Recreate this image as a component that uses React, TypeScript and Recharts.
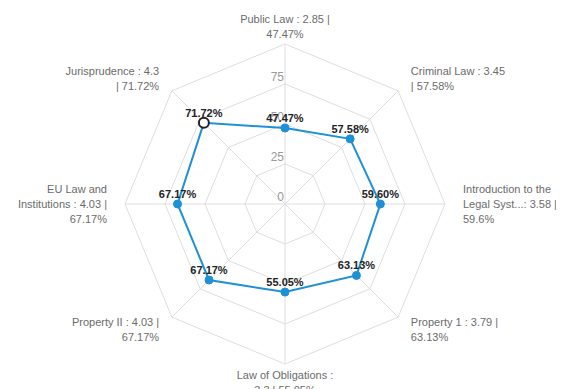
import React from "react";
import { RadarChart, Radar, PolarGrid, PolarAngleAxis, PolarRadiusAxis } from "recharts";

const categories = [
  "Public Law",
  "Criminal Law",
  "Introduction to the Legal System",
  "Property 1",
  "Law of Obligations",
  "Property II",
  "EU Law and Institutions",
  "Jurisprudence",
];
const percentValues = [47.47, 57.58, 59.6, 63.13, 55.05, 67.17, 67.17, 71.72];
const tickLabels = [
  ["Public Law : 2.85 |", "47.47%"],
  ["Criminal Law : 3.45", "| 57.58%"],
  ["Introduction to the", "Legal Syst...: 3.58 |", "59.6%"],
  ["Property 1 : 3.79 |", "63.13%"],
  ["Law of Obligations :", "3.3 | 55.05%"],
  ["Property II : 4.03 |", "67.17%"],
  ["EU Law and", "Institutions : 4.03 |", "67.17%"],
  ["Jurisprudence : 4.3", "| 71.72%"],
];
const radiusTicks = [0, 25, 50, 75, 100];
const highlighted = "Jurisprudence";

const data = categories.map((name, i) => ({ name, value: percentValues[i] }));

const W = 556;
const H = 381;
const CX = 277;
const CY = 196;
const R = 160;
const LABEL_R = 178;
const BLUE = "#1e90d6";
const FONT = "'Liberation Sans', Arial, sans-serif";

const AngleTick = (props: any) => {
  const { payload, index } = props;
  const angle = (payload.coordinate * Math.PI) / 180;
  const c = Math.cos(angle);
  const s = Math.sin(angle);
  const ax = CX + LABEL_R * c;
  const ay = CY - LABEL_R * s;
  const anchor = c > 0.1 ? "start" : c < -0.1 ? "end" : "middle";
  const lines = tickLabels[index] || [];
  const n = lines.length;
  return (
    <text textAnchor={anchor} fill="#6b6b6b" fontSize={11} fontFamily={FONT}>
      {lines.map((l, i) => (
        <tspan key={i} x={ax} y={ay + (i - (n - 1) / 2) * 15} dominantBaseline="central">
          {l}
        </tspan>
      ))}
    </text>
  );
};

const RadiusTick = (props: any) => {
  const { x, y, payload } = props;
  if (payload.value >= 100) return null;
  return (
    <text x={x - 1} y={y - 3} textAnchor="end" fill="#999" fontSize={12} fontFamily={FONT}>
      {payload.value}
    </text>
  );
};

const DotShape = (props: any) => {
  const { cx, cy, payload } = props;
  const name = payload?.name ?? payload?.payload?.name;
  if (name === highlighted) {
    return <circle cx={cx} cy={cy} r={5} fill="#fff" stroke="#222" strokeWidth={2} />;
  }
  return <circle cx={cx} cy={cy} r={4} fill={BLUE} stroke={BLUE} strokeWidth={1} />;
};

const ValueLabel = (props: any) => {
  const { x, y, value } = props;
  return (
    <text x={x} y={y - 6} textAnchor="middle" fill="#222" fontSize={11} fontWeight="bold" fontFamily={FONT}>
      {`${Number(value).toFixed(2)}%`}
    </text>
  );
};

export default function App() {
  return (
    <div style={{ width: W, height: H, overflow: "hidden" }}>
      <style>{`html,body{overflow:hidden;}`}</style>
      <RadarChart width={W} height={H} data={data} cx={CX} cy={CY} outerRadius={R} style={{ fontFamily: FONT }}>
        <PolarGrid gridType="polygon" stroke="#dedede" strokeWidth={1} />
        <PolarAngleAxis dataKey="name" tick={<AngleTick />} tickLine={false} axisLine={false} />
        <PolarRadiusAxis
          angle={90}
          domain={[0, 100]}
          ticks={radiusTicks}
          tick={<RadiusTick />}
          axisLine={false}
          tickLine={false}
        />
        <Radar
          dataKey="value"
          stroke={BLUE}
          strokeWidth={2}
          fill="none"
          fillOpacity={0}
          dot={<DotShape />}
          label={<ValueLabel />}
          isAnimationActive={false}
        />
      </RadarChart>
    </div>
  );
}
